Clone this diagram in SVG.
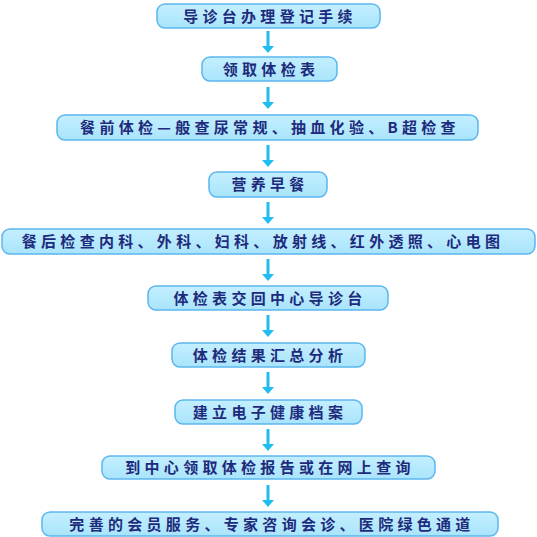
<svg xmlns="http://www.w3.org/2000/svg" width="537" height="537" viewBox="0 0 537 537">
<style>
.box{fill:url(#g);stroke:#5bb6ee;stroke-width:1.5}
.t{font-family:"Noto Sans CJK SC","Noto Sans",sans-serif;font-size:15px;font-weight:bold;fill:#1e2b7c;text-anchor:middle;letter-spacing:4.3px}
.ar{fill:#1fbdf0}
</style>
<defs>
<linearGradient id="g" x1="0" y1="0" x2="0" y2="1">
<stop offset="0" stop-color="#c4efff"/>
<stop offset="1" stop-color="#a9e4fb"/>
</linearGradient>
<g id="arrow"><rect x="-1.5" y="0" width="3" height="16" class="ar"/><polygon points="-6,15 6,15 0,22" class="ar"/></g>
</defs>
<rect width="537" height="537" fill="#ffffff"/>
<g id="connectors">
<use href="#arrow" x="268" y="31"/>
<use href="#arrow" x="268" y="87"/>
<use href="#arrow" x="268" y="145"/>
<use href="#arrow" x="268" y="202"/>
<use href="#arrow" x="268" y="259"/>
<use href="#arrow" x="268" y="315"/>
<use href="#arrow" x="268" y="372"/>
<use href="#arrow" x="268" y="429"/>
<use href="#arrow" x="268" y="485"/>
</g>
<g id="n1"><rect class="box" x="157" y="4" width="223" height="24" rx="8"/><text class="t" x="270" y="21.5">导诊台办理登记手续</text></g>
<g id="n2"><rect class="box" x="202" y="57" width="135" height="24" rx="8"/><text class="t" x="271" y="74.5">领取体检表</text></g>
<g id="n3"><rect class="box" x="57" y="115" width="421" height="25" rx="8"/><text class="t" x="270" y="133">餐前体检—般查尿常规、抽血化验、B超检查</text></g>
<g id="n4"><rect class="box" x="209" y="172" width="118" height="25" rx="8"/><text class="t" x="270" y="190">营养早餐</text></g>
<g id="n5"><rect class="box" x="2" y="229" width="533" height="25" rx="8"/><text class="t" x="263" y="247">餐后检查内科、外科、妇科、放射线、红外透照、心电图</text></g>
<g id="n6"><rect class="box" x="148" y="286" width="240" height="24" rx="8"/><text class="t" x="270" y="303.5">体检表交回中心导诊台</text></g>
<g id="n7"><rect class="box" x="172" y="343" width="193" height="24" rx="8"/><text class="t" x="270" y="360.5">体检结果汇总分析</text></g>
<g id="n8"><rect class="box" x="175" y="400" width="187" height="24" rx="8"/><text class="t" x="270" y="417.5">建立电子健康档案</text></g>
<g id="n9"><rect class="box" x="102" y="456" width="333" height="23" rx="8"/><text class="t" x="270" y="473">到中心领取体检报告或在网上查询</text></g>
<g id="n10"><rect class="box" x="42" y="512" width="456" height="24" rx="8"/><text class="t" x="272" y="529.5">完善的会员服务、专家咨询会诊、医院绿色通道</text></g>
</svg>
